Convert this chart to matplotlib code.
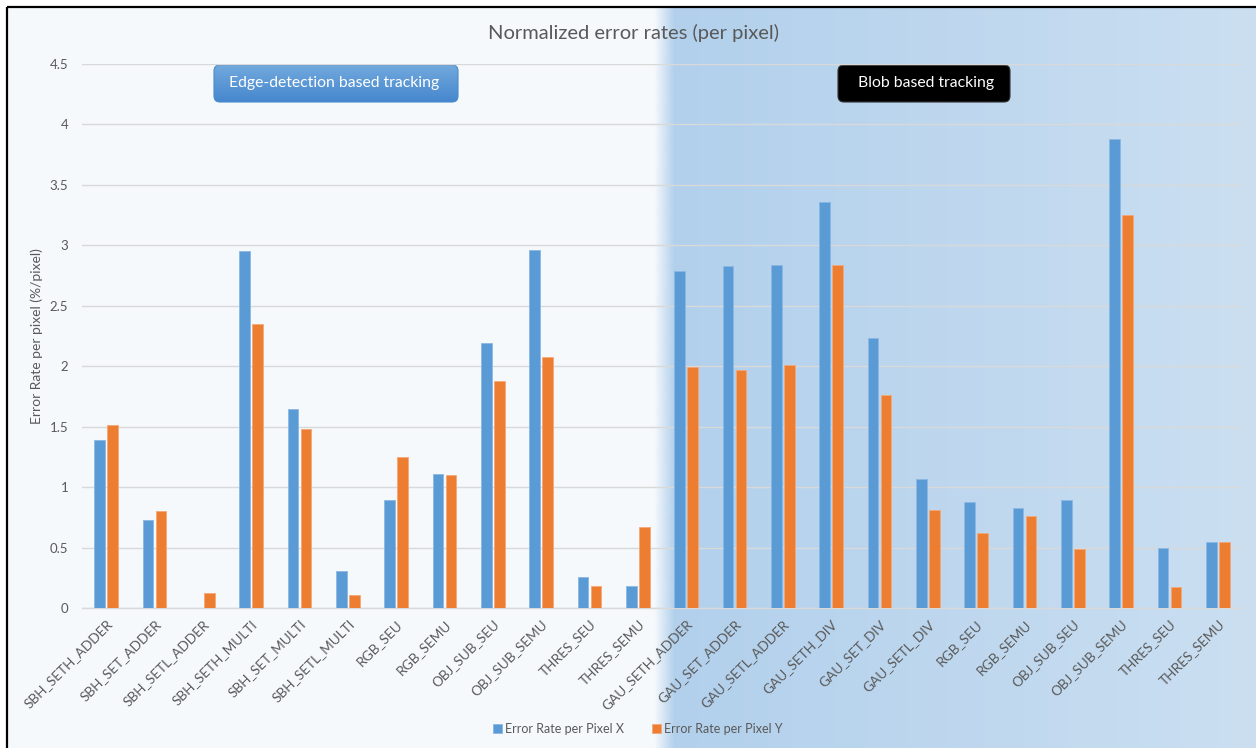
import numpy as np
import matplotlib
matplotlib.use("Agg")
import matplotlib.pyplot as plt
from matplotlib.patches import FancyBboxPatch, Rectangle
from matplotlib.colors import to_rgb

plt.rcParams['font.family'] = ['Lato', 'DejaVu Sans']

# data
categories = ['SBH_SETH_ADDER', 'SBH_SET_ADDER', 'SBH_SETL_ADDER', 'SBH_SETH_MULTI',
              'SBH_SET_MULTI', 'SBH_SETL_MULTI', 'RGB_SEU', 'RGB_SEMU',
              'OBJ_SUB_SEU', 'OBJ_SUB_SEMU', 'THRES_SEU', 'THRES_SEMU',
              'GAU_SETH_ADDER', 'GAU_SET_ADDER', 'GAU_SETL_ADDER', 'GAU_SETH_DIV',
              'GAU_SET_DIV', 'GAU_SETL_DIV', 'RGB_SEU', 'RGB_SEMU',
              'OBJ_SUB_SEU', 'OBJ_SUB_SEMU', 'THRES_SEU', 'THRES_SEMU']
err_x = [1.39, 0.73, 0.0, 2.95, 1.65, 0.31, 0.89, 1.11, 2.19, 2.96, 0.26, 0.18,
         2.79, 2.83, 2.84, 3.36, 2.23, 1.07, 0.88, 0.83, 0.89, 3.88, 0.50, 0.55]
err_y = [1.51, 0.80, 0.12, 2.35, 1.48, 0.11, 1.25, 1.10, 1.88, 2.08, 0.18, 0.67,
         1.99, 1.97, 2.01, 2.84, 1.76, 0.81, 0.62, 0.76, 0.49, 3.25, 0.17, 0.55]
series_names = ['Error Rate per Pixel X', 'Error Rate per Pixel Y']
yticks = [0, 0.5, 1, 1.5, 2, 2.5, 3, 3.5, 4, 4.5]
ytick_labels = ['0', '0.5', '1', '1.5', '2', '2.5', '3', '3.5', '4', '4.5']

blue = '#5b9bd5'
orange = '#ed7d31'
text_gray = '#595959'

W, H = 1256, 748
fig = plt.figure(figsize=(W / 100, H / 100), dpi=100)
fig.patch.set_facecolor('white')

# background layer in pixel coords
bg = fig.add_axes([0, 0, 1, 1], zorder=0)
bg.axis('off')
bg.add_patch(Rectangle((8, 8), W - 8, H - 8, facecolor='#f5f9fc', edgecolor='none', zorder=1))

# blue gradient on the right part
x0, x1, xr = 654, 674, W
n = xr - x0
xs = np.arange(n) + x0
c_left = np.array(to_rgb('#b2d0ec'))
c_right = np.array(to_rgb('#cbdff1'))
t = np.clip((xs - x1) / (xr - x1), 0, 1)[:, None]
cols = c_left * (1 - t) + c_right * t
alpha = np.clip((xs - x0) / (x1 - x0), 0, 1)[:, None]
img = np.concatenate([cols, alpha], axis=1)[None, :, :]
bg.imshow(img, extent=(x0, xr, H, 8), aspect='auto', interpolation='bilinear', zorder=2)

# frame lines (top and left)
bg.plot([7, 7], [7, H], color='black', lw=1.6, solid_capstyle='butt', zorder=3)
bg.plot([7, W], [7, 7], color='black', lw=1.6, solid_capstyle='butt', zorder=3)

# annotation boxes
box1 = FancyBboxPatch((214, 65), 244, 37, boxstyle='round,pad=0,rounding_size=6',
                      facecolor='none', edgecolor='#4a8bcc', lw=0.8, zorder=5)
bg.add_patch(box1)
grad = np.linspace(0, 1, 50)[:, None, None]
top_c = np.array(to_rgb('#72aade'))
bot_c = np.array(to_rgb('#4686cd'))
box_img = top_c * (1 - grad) + bot_c * grad
im = bg.imshow(box_img, extent=(214, 458, 102, 65), aspect='auto', zorder=4)
im.set_clip_path(box1)
box2 = FancyBboxPatch((838, 65), 172, 37, boxstyle='round,pad=0,rounding_size=6',
                      facecolor='black', edgecolor='#333333', lw=0.8, zorder=5)
bg.add_patch(box2)
bg.set_xlim(0, W)
bg.set_ylim(H, 0)

# main axes
ax = fig.add_axes([82 / W, 1 - 608 / H, (1242 - 82) / W, (608 - 64) / H], zorder=1)
ax.set_facecolor('none')

x = np.arange(len(categories))
w = 0.22
off = 0.135
ax.bar(x - off, err_x, width=w, color=blue, edgecolor='#8ab8e4', linewidth=0.6,
       label=series_names[0], zorder=3)
ax.bar(x + off, err_y, width=w, color=orange, edgecolor='#f4a877', linewidth=0.6,
       label=series_names[1], zorder=3)

ax.set_xlim(-0.5, len(categories) - 0.5)
ax.set_ylim(0, 4.5)
ax.set_yticks(yticks)
ax.set_yticklabels(ytick_labels)
ax.grid(axis='y', color='#d9d9d9', linewidth=1.0, zorder=0)
ax.set_axisbelow(True)
for s in ['top', 'right', 'left']:
    ax.spines[s].set_visible(False)
ax.spines['bottom'].set_color('#d9d9d9')
ax.spines['bottom'].set_linewidth(1.0)
ax.tick_params(axis='both', length=0, colors=text_gray)
ax.tick_params(axis='y', pad=10, labelsize=9.5)
ax.set_xticks(x)
ax.set_xticklabels(categories, rotation=45, ha='right', va='top',
                   rotation_mode='anchor', fontsize=9.8, color=text_gray)
ax.tick_params(axis='x', pad=7)

ax.set_ylabel('Error Rate per pixel (%/pixel)', fontsize=10, color=text_gray)
ax.yaxis.set_label_coords(-0.034, 0.5)

fig.text(633 / W, 1 - 33 / H, 'Normalized error rates (per pixel)', ha='center',
         va='center', fontsize=14.5, color=text_gray)

fig.text(334 / W, 1 - 83 / H, 'Edge-detection based tracking', ha='center', va='center',
         fontsize=11.3, color='white', zorder=5)
fig.text(926 / W, 1 - 83 / H, 'Blob based tracking', ha='center', va='center',
         fontsize=11.3, color='white', zorder=5)

fig.legend(loc='center', bbox_to_anchor=(638 / W, 1 - 729 / H), ncol=2, frameon=False,
           fontsize=9, handlelength=0.7, handleheight=0.7, handletextpad=0.3,
           columnspacing=2.2, labelcolor=text_gray)

fig.savefig('out.png', dpi=100)
